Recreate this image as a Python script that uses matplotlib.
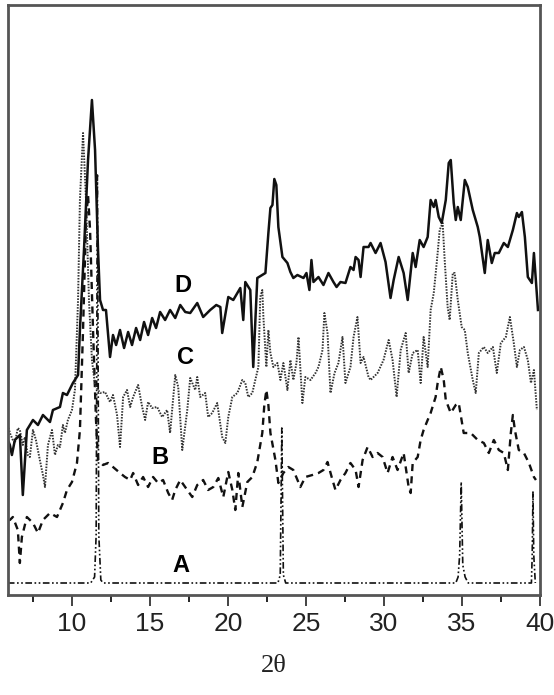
import matplotlib
matplotlib.use("Agg")
import matplotlib.pyplot as plt
from matplotlib.ticker import MultipleLocator

# XRD patterns, 2-theta (deg) and relative intensity (arb. units)
d_x = [5.89, 6.02, 6.15, 6.34, 6.66, 6.85, 7.11, 7.50, 7.82, 8.14, 8.59, 8.78, 9.23, 9.42, 9.68,
       10.06, 10.39, 10.51, 10.77, 11.03, 11.28, 11.48, 11.67, 11.80, 11.99, 12.18, 12.44, 12.63,
       12.83, 13.08, 13.34, 13.60, 13.85, 14.11, 14.37, 14.62, 14.88, 15.14, 15.39, 15.65, 15.97,
       16.29, 16.62, 16.94, 17.26, 17.58, 18.03, 18.41, 18.86, 19.25, 19.51, 19.63, 20.02, 20.34,
       20.60, 20.79, 20.98, 21.11, 21.43, 21.62, 21.88, 22.20, 22.40, 22.59, 22.72, 22.85, 22.97,
       23.10, 23.23, 23.49, 23.81, 24.00, 24.19, 24.45, 24.84, 25.03, 25.22, 25.35, 25.48, 25.80,
       26.12, 26.44, 26.76, 26.96, 27.21, 27.53, 27.85, 28.05, 28.18, 28.37, 28.50, 28.69, 29.01,
       29.14, 29.46, 29.78, 30.10, 30.42, 30.62, 30.94, 31.26, 31.52, 31.84, 32.03, 32.29, 32.54,
       32.80, 32.99, 33.19, 33.31, 33.51, 33.70, 33.96, 34.15, 34.28, 34.47, 34.60, 34.73, 34.92,
       35.18, 35.37, 35.69, 36.01, 36.14, 36.46, 36.65, 36.91, 37.10, 37.36, 37.68, 37.94, 38.26,
       38.52, 38.64, 38.84, 39.03, 39.22, 39.48, 39.61, 39.87]
d_y = [155, 150, 140, 155, 160, 100, 165, 175, 170, 180, 173, 185, 188, 202, 200,
       212, 220, 265, 345, 435, 495, 445, 345, 295, 285, 285, 238, 260,
       250, 265, 247, 263, 250, 267, 255, 273, 260, 277, 267, 283, 275,
       285, 277, 290, 283, 282, 292, 278, 285, 290, 288, 262, 298, 295,
       302, 307, 275, 313, 305, 228, 317, 320, 322, 362, 387, 390, 416,
       410, 368, 338, 332, 323, 317, 320, 317, 322, 305, 335, 313, 318,
       310, 322, 313, 308, 313, 312, 328, 325, 338, 335, 318, 348, 348,
       352, 342, 352, 333, 297, 315, 338, 322, 295, 342, 328, 355, 348,
       358, 395, 388, 395, 378, 372, 395, 432, 435, 392, 375, 388, 375,
       415, 408, 385, 368, 358, 322, 355, 332, 342, 342, 352, 348, 365,
       382, 378, 383, 358, 318, 312, 342, 285]

c_x = [5.89, 6.02, 6.21, 6.34, 6.53, 6.66, 6.85, 6.98, 7.17, 7.30, 7.50, 7.69, 7.94, 8.14, 8.27,
       8.46, 8.72, 8.91, 9.10, 9.23, 9.42, 9.55, 9.74, 10.00, 10.19, 10.39, 10.51, 10.71, 10.90,
       11.09, 11.28, 11.48, 11.80, 12.12, 12.44, 12.63, 12.89, 13.08, 13.28, 13.53, 13.73, 13.92,
       14.24, 14.50, 14.69, 14.88, 15.14, 15.46, 15.78, 16.10, 16.29, 16.62, 16.81, 17.07, 17.39,
       17.58, 17.90, 18.03, 18.22, 18.54, 18.73, 18.99, 19.31, 19.63, 19.83, 20.02, 20.28, 20.60,
       20.92, 21.11, 21.30, 21.56, 21.75, 21.95, 22.07, 22.20, 22.27, 22.46, 22.59, 22.72, 22.91,
       23.17, 23.36, 23.55, 23.81, 24.00, 24.19, 24.39, 24.52, 24.77, 24.96, 25.29, 25.61, 25.80,
       26.06, 26.18, 26.38, 26.57, 26.83, 27.08, 27.34, 27.53, 27.85, 28.05, 28.30, 28.50, 28.69,
       29.01, 29.14, 29.59, 29.97, 30.30, 30.55, 30.81, 31.07, 31.39, 31.58, 31.84, 32.16, 32.35,
       32.54, 32.80, 32.99, 33.19, 33.44, 33.57, 33.76, 33.89, 34.08, 34.21, 34.41, 34.53, 34.73,
       34.98, 35.18, 35.37, 35.69, 35.88, 36.08, 36.40, 36.65, 36.98, 37.23, 37.49, 37.81, 38.07,
       38.32, 38.52, 38.71, 38.97, 39.22, 39.42, 39.61, 39.80]
c_y = [170, 162, 155, 152, 167, 165, 150, 158, 140, 138, 165, 155, 135, 120, 108,
       150, 165, 140, 150, 148, 170, 162, 175, 185, 205, 295, 395, 462, 395,
       295, 235, 210, 202, 203, 193, 200, 180, 148, 198, 205, 188, 198,
       210, 188, 175, 193, 187, 188, 178, 185, 162, 220, 208, 145, 185,
       217, 205, 218, 198, 202, 178, 182, 192, 158, 152, 178, 198, 202,
       215, 212, 198, 202, 215, 228, 298, 305, 278, 228, 265, 242, 228,
       232, 215, 232, 205, 235, 215, 232, 258, 192, 218, 215, 222, 228,
       245, 282, 262, 202, 222, 232, 258, 212, 228, 258, 278, 232, 238,
       218, 215, 222, 235, 255, 235, 198, 245, 262, 222, 242, 245, 212,
       258, 228, 285, 302, 342, 365, 372, 335, 288, 275, 322, 322, 295,
       268, 265, 242, 215, 202, 242, 248, 242, 248, 222, 252, 258, 278,
       252, 228, 245, 248, 235, 212, 225, 185]

b_x = [5.89, 6.02, 6.21, 6.53, 6.66, 6.79, 7.11, 7.50, 7.82, 8.14, 8.59, 9.04, 9.42, 9.68, 10.00,
       10.32, 10.51, 10.71, 10.90, 11.03, 11.16, 11.35, 11.54, 11.67, 11.99, 12.31, 12.63, 13.08,
       13.40, 13.73, 13.92, 14.24, 14.56, 14.88, 15.20, 15.52, 15.84, 16.17, 16.42, 16.62, 16.94,
       17.39, 17.71, 18.03, 18.41, 18.73, 19.06, 19.38, 19.70, 20.02, 20.28, 20.47, 20.66, 20.92,
       21.24, 21.56, 21.88, 22.20, 22.33, 22.46, 22.59, 22.72, 23.04, 23.23, 23.55, 23.87, 24.19,
       24.64, 24.96, 25.41, 25.80, 26.12, 26.38, 26.70, 26.89, 27.21, 27.53, 27.85, 28.18, 28.37,
       28.63, 28.95, 29.27, 29.59, 29.91, 30.23, 30.55, 30.87, 31.26, 31.58, 31.71, 31.84, 32.16,
       32.35, 32.54, 32.80, 32.99, 33.31, 33.44, 33.64, 33.83, 33.96, 34.28, 34.60, 34.79, 35.11,
       35.56, 36.01, 36.40, 36.72, 37.04, 37.36, 37.68, 37.94, 38.13, 38.26, 38.39, 38.64, 38.97,
       39.29, 39.61, 39.74]
b_y = [75, 75, 78, 65, 32, 58, 78, 72, 62, 75, 82, 78, 92, 105, 113,
       132, 165, 265, 375, 400, 365, 265, 175, 135, 130, 132, 128, 122,
       118, 115, 122, 110, 118, 108, 118, 112, 115, 102, 95, 105, 115,
       105, 98, 110, 115, 105, 108, 117, 98, 123, 105, 85, 122, 88,
       113, 118, 133, 162, 190, 205, 190, 162, 135, 112, 122, 128, 125,
       108, 118, 120, 122, 125, 133, 115, 105, 115, 122, 132, 125, 108,
       135, 148, 138, 142, 138, 122, 138, 125, 142, 108, 102, 132, 138,
       155, 165, 175, 182, 198, 212, 228, 215, 195, 182, 190, 192, 162,
       162, 155, 152, 142, 155, 145, 142, 125, 162, 180, 165, 145, 142,
       132, 118, 115]

a_x = [5.89, 11.20, 11.45, 11.55, 11.63, 11.72, 11.85, 12.00, 23.20, 23.35, 23.45, 23.55, 23.70,
       34.60, 34.75, 34.85, 34.95, 35.05, 35.20, 35.40, 39.45, 39.50, 39.55, 39.60, 39.70]
a_y = [12, 12, 18, 60, 420, 60, 15, 12, 12, 20, 167, 20, 12,
       12, 18, 40, 113, 30, 18, 12, 12, 40, 103, 40, 12]

labels = ["A", "B", "C", "D"]
label_x = [17.0, 15.65, 17.26, 17.13]
label_y = [29, 138, 238, 310]

fig = plt.figure(figsize=(5.54, 6.95), dpi=100)
ax = fig.add_axes([8 / 554, 100 / 695, 532 / 554, 590 / 695])

ax.plot(a_x, a_y, color="#111111", lw=1.2, ls=(0, (4, 1.5, 1, 1.5, 1, 1.5)))
ax.plot(b_x, b_y, color="#111111", lw=1.7, ls=(0, (3, 2.2)))
ax.plot(c_x, c_y, color="#333333", lw=1.4, ls=(0, (0.8, 0.7)))
ax.plot(d_x, d_y, color="#111111", lw=1.8)

for lab, lx, ly in zip(labels, label_x, label_y):
    ax.text(lx, ly, lab, ha="center", va="center", fontsize=17, fontweight="bold",
            family=["Liberation Sans", "DejaVu Sans"])

ax.set_xlim(5.9, 40)
ax.set_ylim(0, 590)
ax.xaxis.set_major_locator(MultipleLocator(5))
ax.xaxis.set_minor_locator(MultipleLocator(2.5))
ax.set_xticks([10, 15, 20, 25, 30, 35, 40])
ax.set_yticks([])
ax.tick_params(axis="x", which="major", direction="out", length=8, width=1.2,
               labelsize=19, pad=4, colors="#222222")
ax.tick_params(axis="x", which="minor", direction="out", length=5, width=1.2)
for lbl in ax.get_xticklabels():
    lbl.set_family(["Liberation Sans Narrow", "Liberation Sans", "DejaVu Sans"])

for sp in ax.spines.values():
    sp.set_color("#555555")
    sp.set_linewidth(2)

ax.set_xlabel("2θ", fontsize=19, family=["Liberation Serif", "DejaVu Serif"],
              labelpad=14, color="#222222")

fig.savefig("out.png", dpi=100)
